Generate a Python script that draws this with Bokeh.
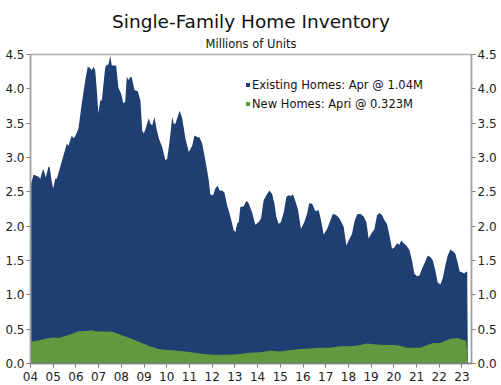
from bokeh.plotting import figure
from bokeh.models import (LinearAxis, FixedTicker, Range1d, Title, Legend,
                          LegendItem, CustomJSTickFormatter)
from bokeh.embed import file_html
from bokeh.resources import INLINE

# ---- data ----
existing_x = [2004.03, 2004.13, 2004.21, 2004.35, 2004.43, 2004.53, 2004.57, 2004.67, 2004.79, 2004.84,
              2004.94, 2005.00, 2005.09, 2005.16, 2005.31, 2005.45, 2005.60, 2005.67, 2005.82, 2005.89,
              2005.97, 2006.11, 2006.26, 2006.41, 2006.52, 2006.63, 2006.70, 2006.77, 2006.85, 2006.92,
              2006.99, 2007.07, 2007.14, 2007.29, 2007.36, 2007.43, 2007.51, 2007.58, 2007.70, 2007.77,
              2007.87, 2007.99, 2008.09, 2008.17, 2008.24, 2008.31, 2008.39, 2008.46, 2008.58, 2008.72,
              2008.84, 2008.92, 2008.99, 2009.09, 2009.21, 2009.28, 2009.36, 2009.46, 2009.55, 2009.65,
              2009.80, 2009.94, 2010.02, 2010.13, 2010.24, 2010.31, 2010.38, 2010.46, 2010.57, 2010.68,
              2010.82, 2010.97, 2011.12, 2011.22, 2011.34, 2011.45, 2011.56, 2011.70, 2011.85, 2011.92,
              2012.04, 2012.14, 2012.24, 2012.33, 2012.44, 2012.54, 2012.66, 2012.77, 2012.95, 2013.02,
              2013.10, 2013.17, 2013.24, 2013.39, 2013.51, 2013.61, 2013.76, 2013.90, 2014.05, 2014.15,
              2014.27, 2014.42, 2014.52, 2014.64, 2014.74, 2014.83, 2014.93, 2015.03, 2015.15, 2015.27,
              2015.37, 2015.47, 2015.56, 2015.66, 2015.78, 2015.91, 2016.06, 2016.18, 2016.27, 2016.40,
              2016.54, 2016.69, 2016.80, 2016.91, 2017.06, 2017.20, 2017.32, 2017.47, 2017.61, 2017.79,
              2017.91, 2018.01, 2018.16, 2018.26, 2018.38, 2018.52, 2018.67, 2018.79, 2018.89, 2019.00,
              2019.14, 2019.26, 2019.37, 2019.48, 2019.58, 2019.70, 2019.81, 2019.92, 2020.02, 2020.14,
              2020.24, 2020.33, 2020.43, 2020.55, 2020.69, 2020.80, 2020.90, 2021.02, 2021.13, 2021.24,
              2021.39, 2021.49, 2021.61, 2021.72, 2021.83, 2021.93, 2022.05, 2022.16, 2022.27, 2022.37,
              2022.49, 2022.61, 2022.71, 2022.81, 2022.90, 2023.00, 2023.10, 2023.19, 2023.23, 2023.26]
existing_y = [2.62, 2.75, 2.74, 2.72, 2.69, 2.81, 2.83, 2.71, 2.86, 2.87,
              2.64, 2.55, 2.69, 2.69, 2.86, 3.03, 3.20, 3.17, 3.32, 3.28,
              3.31, 3.42, 3.79, 4.12, 4.32, 4.30, 4.27, 4.32, 4.27, 3.98,
              3.64, 3.83, 3.83, 4.31, 4.35, 4.35, 4.48, 4.34, 4.34, 4.34,
              4.02, 3.93, 3.79, 3.81, 4.18, 4.13, 4.17, 4.17, 3.98, 3.97,
              3.83, 3.39, 3.35, 3.44, 3.57, 3.49, 3.47, 3.59, 3.42, 3.28,
              3.15, 2.96, 2.98, 3.25, 3.59, 3.49, 3.49, 3.57, 3.68, 3.57,
              3.28, 3.08, 3.17, 3.32, 3.30, 3.29, 3.20, 2.96, 2.67, 2.46,
              2.45, 2.55, 2.59, 2.52, 2.52, 2.49, 2.30, 2.18, 1.94, 1.91,
              2.04, 2.06, 2.28, 2.29, 2.37, 2.33, 2.20, 2.02, 2.06, 2.11,
              2.38, 2.47, 2.52, 2.47, 2.33, 2.13, 2.03, 2.06, 2.20, 2.43,
              2.45, 2.44, 2.46, 2.37, 2.24, 1.96, 2.06, 2.18, 2.33, 2.33,
              2.22, 2.23, 2.08, 1.88, 1.96, 2.08, 2.18, 2.16, 2.11, 1.99,
              1.72, 1.79, 1.89, 2.06, 2.17, 2.18, 2.14, 2.06, 1.82, 1.89,
              1.95, 2.16, 2.19, 2.16, 2.09, 2.03, 1.86, 1.67, 1.69, 1.75,
              1.73, 1.79, 1.75, 1.72, 1.65, 1.50, 1.31, 1.27, 1.28, 1.38,
              1.49, 1.57, 1.55, 1.50, 1.35, 1.18, 1.15, 1.25, 1.43, 1.57,
              1.66, 1.63, 1.60, 1.47, 1.34, 1.33, 1.31, 1.34, 1.33, 0.0]

new_x = [2004.03, 2004.35, 2004.65, 2005.01, 2005.23, 2005.53, 2005.82, 2006.11, 2006.41, 2006.70,
         2006.92, 2007.14, 2007.51, 2007.73, 2008.02, 2008.31, 2008.75, 2009.19, 2009.63, 2009.93,
         2010.37, 2010.81, 2011.25, 2011.69, 2012.13, 2012.71, 2013.15, 2013.60, 2014.12, 2014.56,
         2015.00, 2015.44, 2015.88, 2016.32, 2016.76, 2017.20, 2017.64, 2018.08, 2018.52, 2018.82,
         2019.11, 2019.55, 2019.99, 2020.29, 2020.58, 2020.87, 2021.17, 2021.46, 2021.75, 2022.05,
         2022.19, 2022.49, 2022.78, 2023.00, 2023.19, 2023.26]
new_y = [0.32, 0.335, 0.36, 0.38, 0.37, 0.40, 0.43, 0.47, 0.475, 0.485,
         0.466, 0.466, 0.466, 0.447, 0.41, 0.38, 0.32, 0.26, 0.21, 0.20,
         0.19, 0.175, 0.155, 0.135, 0.127, 0.127, 0.135, 0.155, 0.165, 0.185,
         0.175, 0.195, 0.21, 0.22, 0.23, 0.23, 0.25, 0.25, 0.27, 0.29,
         0.28, 0.27, 0.27, 0.26, 0.23, 0.23, 0.23, 0.27, 0.30, 0.30,
         0.32, 0.36, 0.37, 0.35, 0.33, 0.0]

year_ticks = list(range(2004, 2024))
year_labels = ["04", "05", "06", "07", "08", "09", "10", "11", "12", "13",
               "14", "15", "16", "17", "18", "19", "20", "21", "22", "23"]
y_ticks = [0.0, 0.5, 1.0, 1.5, 2.0, 2.5, 3.0, 3.5, 4.0, 4.5]

series_names = ["Existing Homes: Apr @ 1.04M", "New Homes: Apri @ 0.323M"]

BLUE = "#1f3e72"
GREEN = "#62993e"
FONT = "DejaVu Sans"

p = figure(width=501, height=385, output_backend="svg", toolbar_location=None,
           x_range=Range1d(2004.0, 2023.42), y_range=Range1d(0, 4.5),
           min_border_left=30, min_border_right=30, min_border_top=54, min_border_bottom=22)

r1 = p.varea(x=existing_x, y1=0, y2=existing_y, fill_color=BLUE)
r2 = p.varea(x=new_x, y1=0, y2=new_y, fill_color=GREEN)

p.xgrid.visible = False
p.ygrid.visible = False
p.outline_line_color = "#b0b0b0"
p.outline_line_width = 1.5

# axes
xa = p.xaxis[0]
xa.ticker = FixedTicker(ticks=year_ticks)
xa.major_label_overrides = {t: l for t, l in zip(year_ticks, year_labels)}
ya = p.yaxis[0]
yr = LinearAxis()
p.add_layout(yr, "right")
for ax in (ya, yr):
    ax.ticker = FixedTicker(ticks=y_ticks)
    ax.formatter = CustomJSTickFormatter(code="return tick.toFixed(1);")
for ax in (xa, ya, yr):
    ax.axis_line_color = "#a0a0a0"
    ax.axis_line_width = 1.5
    ax.major_tick_line_color = "#808080"
    ax.major_tick_in = 0
    ax.major_tick_out = 4
    ax.minor_tick_line_color = None
    ax.major_label_text_font = FONT
    ax.major_label_text_font_size = "12px"
    ax.major_label_text_color = "#222222"
    ax.major_label_standoff = 2
    ax.axis_label_standoff = 0
    ax.axis_label_text_font_size = "0px"
xa.axis_line_color = "#808080"
xa.major_label_standoff = 4

# titles
p.add_layout(Title(text="Millions of Units", align="center", text_font=FONT,
                   text_font_size="11.5px", text_font_style="normal",
                   text_color="#111111", standoff=7), "above")
p.add_layout(Title(text="Single-Family Home Inventory", align="center", text_font=FONT,
                   text_font_size="18.5px", text_font_style="normal",
                   text_color="#111111", standoff=0), "above")

legend = Legend(items=[LegendItem(label=series_names[0], renderers=[r1]),
                       LegendItem(label=series_names[1], renderers=[r2])],
                location=(215, 250), orientation="vertical")
legend.background_fill_alpha = 0
legend.border_line_color = None
legend.label_text_font = FONT
legend.label_text_font_size = "11.5px"
legend.label_text_color = "#111111"
legend.glyph_width = 5
legend.glyph_height = 5
legend.label_height = 19
legend.label_standoff = 2
legend.spacing = 0
legend.padding = 0
legend.margin = 0
p.add_layout(legend, "center")

open("out.html", "w").write(file_html(p, INLINE))
